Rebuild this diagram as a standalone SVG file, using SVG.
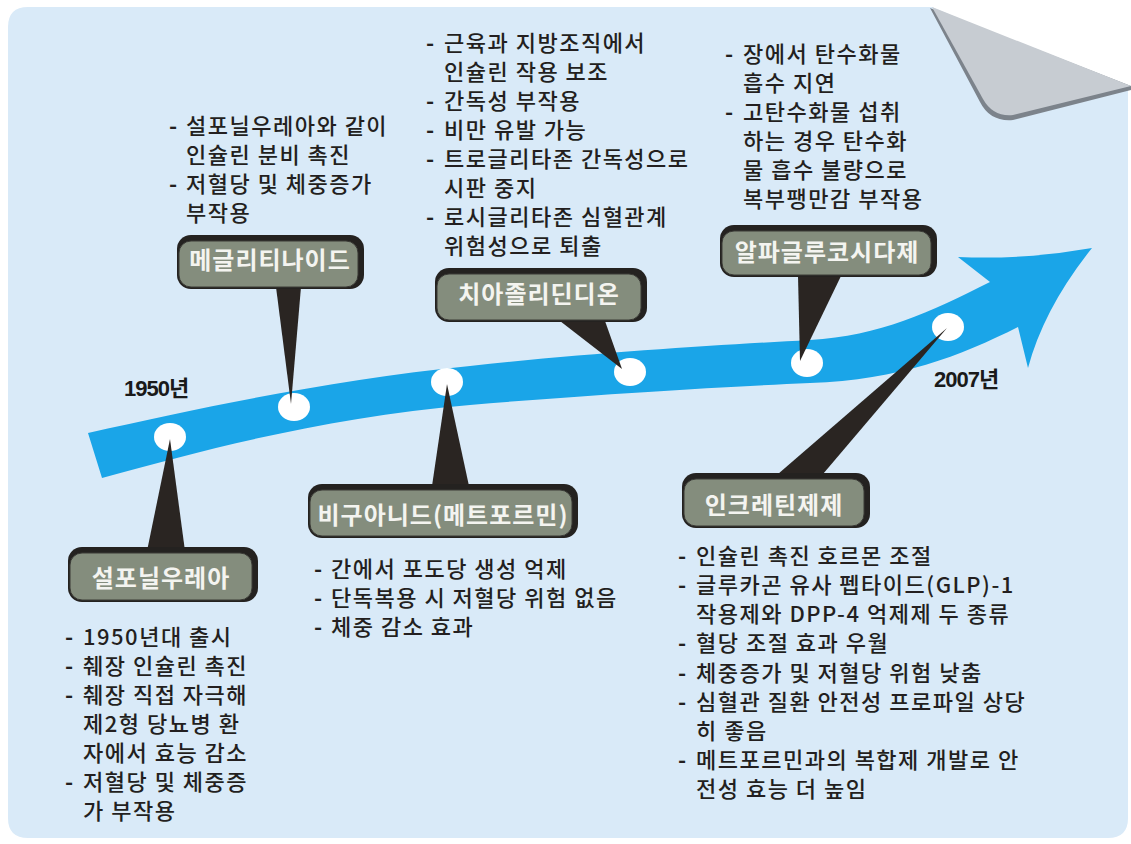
<svg xmlns="http://www.w3.org/2000/svg" width="1131" height="844" viewBox="0 0 1131 844">
<style>
.body{font-family:'Noto Sans CJK KR','Noto Sans CJK SC',sans-serif;font-size:22px;font-weight:500;fill:#231f20;letter-spacing:1.5px}
.d{font-weight:700}
.lbl{font-family:'Noto Sans CJK KR','Noto Sans CJK SC',sans-serif;font-size:24px;font-weight:700;fill:#f4f4f0;text-anchor:middle;letter-spacing:1px}
.yr{font-family:'Liberation Sans','Noto Sans CJK KR',sans-serif;font-size:22px;font-weight:700;fill:#1a1a1a;letter-spacing:-1px}
.bd{fill:#242220}
.bg{fill:#848d7d;stroke:#3a3a36;stroke-width:1}
.ptr{fill:#2a2522}
.dot{fill:#ffffff}
</style>
<rect width="1131" height="844" fill="#ffffff"/>
<g id="page">
<path d="M28,7 H932 L1128,90 V818 Q1128,838 1108,838 H28 Q8,838 8,818 V27 Q8,7 28,7 Z" fill="#d9eaf8"/>
<path d="M930,8 L980,102 Q990,122 1013,120 L1131,90 L1131,86 Z" fill="#7c838b"/>
<path d="M932,7 L983,99 Q993,117 1013,115 L1131,86 Z" fill="#c7ccd2"/>
</g>
<g id="arrow">
<path d="M88,433 C200,408 330,380 470,366 C600,352 720,345 810,340 C880,336 930,312 990,282 L958,257 Q1025,260 1092,248 Q1044,308 1028,368 L1018,327 C960,356 900,380 810,383 C720,387 600,394 470,405 C330,417 210,448 102,478 Z" fill="#1aa5e8"/>
<ellipse class="dot" cx="170" cy="437" rx="16" ry="14"/>
<ellipse class="dot" cx="294" cy="407" rx="16" ry="14"/>
<ellipse class="dot" cx="447" cy="382" rx="16" ry="14"/>
<ellipse class="dot" cx="630" cy="372" rx="16" ry="14"/>
<ellipse class="dot" cx="807" cy="363" rx="16" ry="14"/>
<ellipse class="dot" cx="948" cy="327" rx="16" ry="14"/>
</g>
<g id="years">
<text class="yr" x="124" y="396">1950년</text>
<text class="yr" x="934" y="387">2007년</text>
</g>
<g id="connectors">
<polygon class="ptr" points="147,551 185,551 170,439"/>
<polygon class="ptr" points="276,287 301,287 291,404"/>
<polygon class="ptr" points="432,486 469,486 447,384"/>
<polygon class="ptr" points="560,321 605,321 622,369"/>
<polygon class="ptr" points="798,276 841,276 800,361"/>
<polygon class="ptr" points="778,474 823,474 947,328"/>
</g>
<g id="node-sulfonylurea">
<rect class="bd" x="68" y="547" width="190" height="55" rx="14"/>
<rect class="bg" x="70" y="553" width="182" height="47" rx="12"/>
<text class="lbl" x="161" y="587">설포닐우레아</text>
<text class="body" y="645"><tspan class="d" x="65">- </tspan><tspan x="83">1950년대 출시</tspan></text>
<text class="body" y="674"><tspan class="d" x="65">- </tspan><tspan x="83">췌장 인슐린 촉진</tspan></text>
<text class="body" y="703"><tspan class="d" x="65">- </tspan><tspan x="83">췌장 직접 자극해</tspan></text>
<text class="body" x="83" y="732">제2형 당뇨병 환</text>
<text class="body" x="83" y="761">자에서 효능 감소</text>
<text class="body" y="790"><tspan class="d" x="65">- </tspan><tspan x="83">저혈당 및 체중증</tspan></text>
<text class="body" x="83" y="819">가 부작용</text>
</g>
<g id="node-meglitinide">
<rect class="bd" x="177" y="235" width="187" height="54" rx="14"/>
<rect class="bg" x="179" y="241" width="179" height="46" rx="12"/>
<text class="lbl" x="270" y="269">메글리티나이드</text>
<text class="body" y="134"><tspan class="d" x="169">- </tspan><tspan x="186">설포닐우레아와 같이</tspan></text>
<text class="body" x="186" y="163">인슐린 분비 촉진</text>
<text class="body" y="192"><tspan class="d" x="169">- </tspan><tspan x="186">저혈당 및 체중증가</tspan></text>
<text class="body" x="186" y="221">부작용</text>
</g>
<g id="node-biguanide">
<rect class="bd" x="308" y="484" width="270" height="54" rx="14"/>
<rect class="bg" x="310" y="490" width="262" height="46" rx="12"/>
<text class="lbl" x="443" y="524">비구아니드(메트포르민)</text>
<text class="body" y="577"><tspan class="d" x="314">- </tspan><tspan x="331">간에서 포도당 생성 억제</tspan></text>
<text class="body" y="606"><tspan class="d" x="314">- </tspan><tspan x="331">단독복용 시 저혈당 위험 없음</tspan></text>
<text class="body" y="635"><tspan class="d" x="314">- </tspan><tspan x="331">체중 감소 효과</tspan></text>
</g>
<g id="node-thiazolidinedione">
<rect class="bd" x="435" y="268" width="212" height="54" rx="14"/>
<rect class="bg" x="437" y="274" width="204" height="46" rx="12"/>
<text class="lbl" x="539" y="303">치아졸리딘디온</text>
<text class="body" y="51"><tspan class="d" x="426">- </tspan><tspan x="444">근육과 지방조직에서</tspan></text>
<text class="body" x="444" y="80">인슐린 작용 보조</text>
<text class="body" y="109"><tspan class="d" x="426">- </tspan><tspan x="444">간독성 부작용</tspan></text>
<text class="body" y="138"><tspan class="d" x="426">- </tspan><tspan x="444">비만 유발 가능</tspan></text>
<text class="body" y="167"><tspan class="d" x="426">- </tspan><tspan x="444">트로글리타존 간독성으로</tspan></text>
<text class="body" x="444" y="196">시판 중지</text>
<text class="body" y="225"><tspan class="d" x="426">- </tspan><tspan x="444">로시글리타존 심혈관계</tspan></text>
<text class="body" x="444" y="254">위험성으로 퇴출</text>
</g>
<g id="node-alpha-glucosidase">
<rect class="bd" x="720" y="225" width="217" height="52" rx="14"/>
<rect class="bg" x="722" y="231" width="209" height="44" rx="12"/>
<text class="lbl" x="827" y="261">알파글루코시다제</text>
<text class="body" y="62"><tspan class="d" x="725">- </tspan><tspan x="743">장에서 탄수화물</tspan></text>
<text class="body" x="743" y="91">흡수 지연</text>
<text class="body" y="120"><tspan class="d" x="725">- </tspan><tspan x="743">고탄수화물 섭취</tspan></text>
<text class="body" x="743" y="149">하는 경우 탄수화</text>
<text class="body" x="743" y="178">물 흡수 불량으로</text>
<text class="body" x="743" y="207">복부팽만감 부작용</text>
</g>
<g id="node-incretin">
<rect class="bd" x="682" y="473" width="188" height="55" rx="14"/>
<rect class="bg" x="684" y="479" width="180" height="47" rx="12"/>
<text class="lbl" x="774" y="514">인크레틴제제</text>
<text class="body" y="564"><tspan class="d" x="678">- </tspan><tspan x="696">인슐린 촉진 호르몬 조절</tspan></text>
<text class="body" y="593"><tspan class="d" x="678">- </tspan><tspan x="696">글루카곤 유사 펩타이드(GLP)-1</tspan></text>
<text class="body" x="696" y="622">작용제와 DPP-4 억제제 두 종류</text>
<text class="body" y="651"><tspan class="d" x="678">- </tspan><tspan x="696">혈당 조절 효과 우월</tspan></text>
<text class="body" y="681"><tspan class="d" x="678">- </tspan><tspan x="696">체중증가 및 저혈당 위험 낮춤</tspan></text>
<text class="body" y="710"><tspan class="d" x="678">- </tspan><tspan x="696">심혈관 질환 안전성 프로파일 상당</tspan></text>
<text class="body" x="696" y="739">히 좋음</text>
<text class="body" y="768"><tspan class="d" x="678">- </tspan><tspan x="696">메트포르민과의 복합제 개발로 안</tspan></text>
<text class="body" x="696" y="797">전성 효능 더 높임</text>
</g>
</svg>
